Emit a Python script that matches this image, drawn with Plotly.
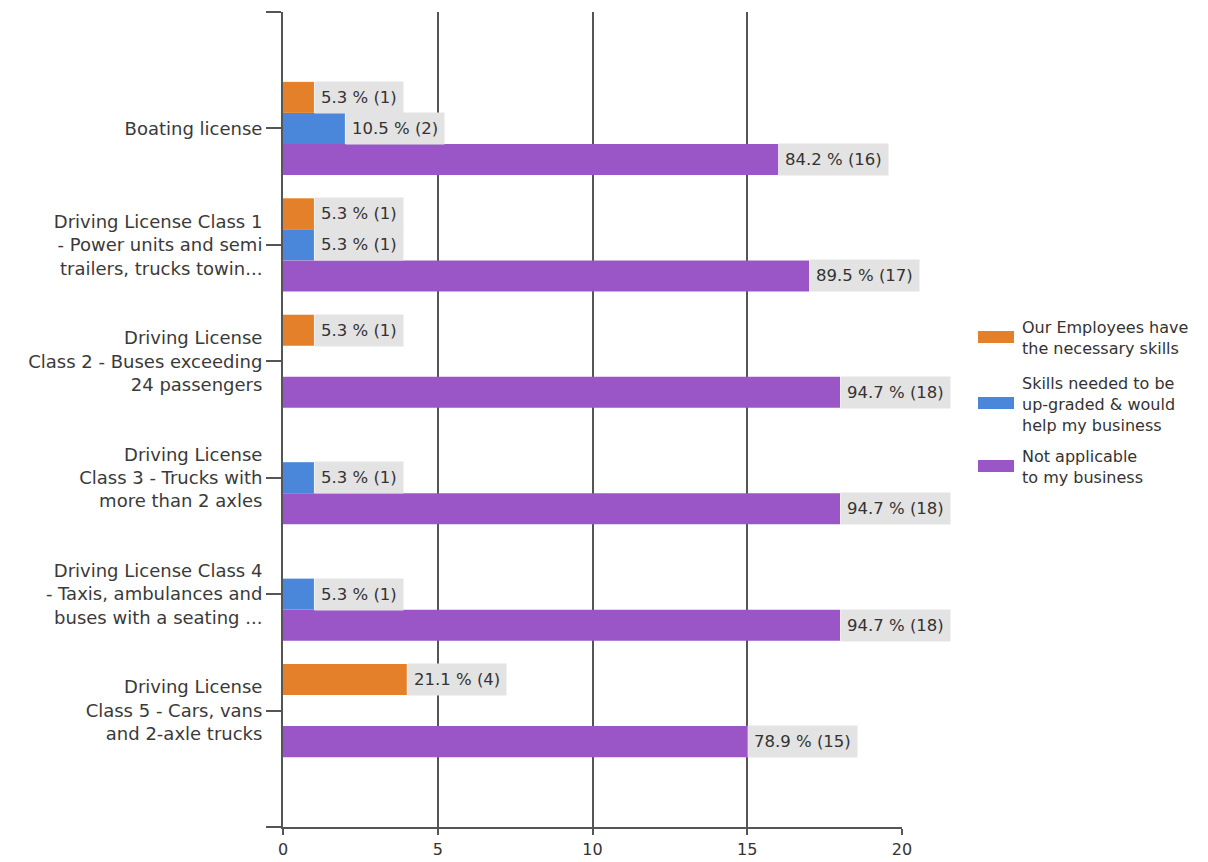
import plotly.graph_objects as go

# Survey responses: number of respondents per licence type and answer
categories = [
    "Boating license",
    "Driving License Class 1<br>- Power units and semi<br>trailers, trucks towin...",
    "Driving License<br>Class 2 - Buses exceeding<br>24 passengers",
    "Driving License<br>Class 3 - Trucks with<br>more than 2 axles",
    "Driving License Class 4<br>- Taxis, ambulances and<br>buses with a seating ...",
    "Driving License<br>Class 5 - Cars, vans<br>and 2-axle trucks",
]
series_names = [
    "Our Employees have<br>the necessary skills",
    "Skills needed to be<br>up-graded & would<br>help my business",
    "Not applicable<br>to my business",
]
have_skills = [1, 1, 1, None, None, 4]
need_upgrade = [2, 1, None, 1, 1, None]
not_applicable = [16, 17, 18, 18, 18, 15]
respondents = 19

x_ticks = [0, 5, 10, 15, 20]

FONT = "DejaVu Sans"
colors = ["#E5802A", "#4A87DA", "#9A56C6"]
series_values = [have_skills, need_upgrade, not_applicable]

# plot area in pixels
W, H = 1208, 862
ML, MR, MT, MB = 283, 306, 12, 35
PW, PH = W - ML - MR, H - MT - MB


def px_x(px):
    return (px - ML) / PW


def px_y(py):
    return 1 - (py - MT) / PH


fig = go.Figure()
positions = list(range(len(categories)))
for name, vals, col in zip(series_names, series_values, colors):
    fig.add_trace(go.Bar(
        y=positions, x=vals, orientation="h", name=name,
        marker=dict(color=col, line=dict(width=0)),
        showlegend=False, hoverinfo="x+y",
    ))

# value labels on a grey box next to each bar end
n_series = len(series_values)
slot = 0.8 / n_series
annotations = []
for k, vals in enumerate(series_values):
    offset = (k - (n_series - 1) / 2) * slot
    for i, v in enumerate(vals):
        if v is None:
            continue
        pct = 100.0 * v / respondents
        annotations.append(dict(
            x=v, y=i + offset, xref="x", yref="y",
            text=f"{pct:.1f} % ({v})", showarrow=False,
            xanchor="left", yanchor="middle",
            bgcolor="#E3E3E3", borderpad=6, height=19,
            font=dict(family=FONT, size=16.5, color="#333333"),
        ))

# legend drawn beside the plot
legend_rows = [337, 403, 466]
shapes = []
for name, col, cy in zip(series_names, colors, legend_rows):
    shapes.append(dict(
        type="rect", xref="paper", yref="paper",
        x0=px_x(978), x1=px_x(1014), y0=px_y(cy + 6), y1=px_y(cy - 6),
        fillcolor=col, line=dict(width=0),
    ))
    annotations.append(dict(
        x=px_x(1020), y=px_y(cy + 1), xref="paper", yref="paper",
        text=name, showarrow=False, xanchor="left", yanchor="middle",
        align="left",
        font=dict(family=FONT, size=16, color="#333333"),
    ))

fig.update_layout(
    width=W, height=H,
    margin=dict(l=ML, r=MR, t=MT, b=MB, pad=0, autoexpand=False),
    paper_bgcolor="white", plot_bgcolor="white",
    barmode="group", bargap=0.2, bargroupgap=0,
    font=dict(family=FONT, color="#3a3a3a"),
    annotations=annotations, shapes=shapes,
    showlegend=False,
)
fig.update_xaxes(
    range=[0, 20], tickvals=x_ticks, ticktext=[str(t) for t in x_ticks],
    showgrid=True, gridcolor="#555555", gridwidth=2,
    showline=True, linecolor="#555555", linewidth=2,
    ticks="outside", ticklen=6, tickwidth=2, tickcolor="#555555",
    ticklabelstandoff=1, automargin=False,
    tickfont=dict(family=FONT, size=16, color="#333333"), zeroline=False,
)
fig.update_yaxes(
    range=[len(categories), -1],
    tickvals=list(range(-1, len(categories) + 1)),
    ticktext=[""] + categories + [""],
    showgrid=False, zeroline=False, automargin=False,
    showline=True, linecolor="#555555", linewidth=2, mirror=False,
    ticks="outside", ticklen=15, tickwidth=2, tickcolor="#555555",
    tickfont=dict(family=FONT, size=18, color="#3a3a3a"),
)

fig.write_html("out.html")
